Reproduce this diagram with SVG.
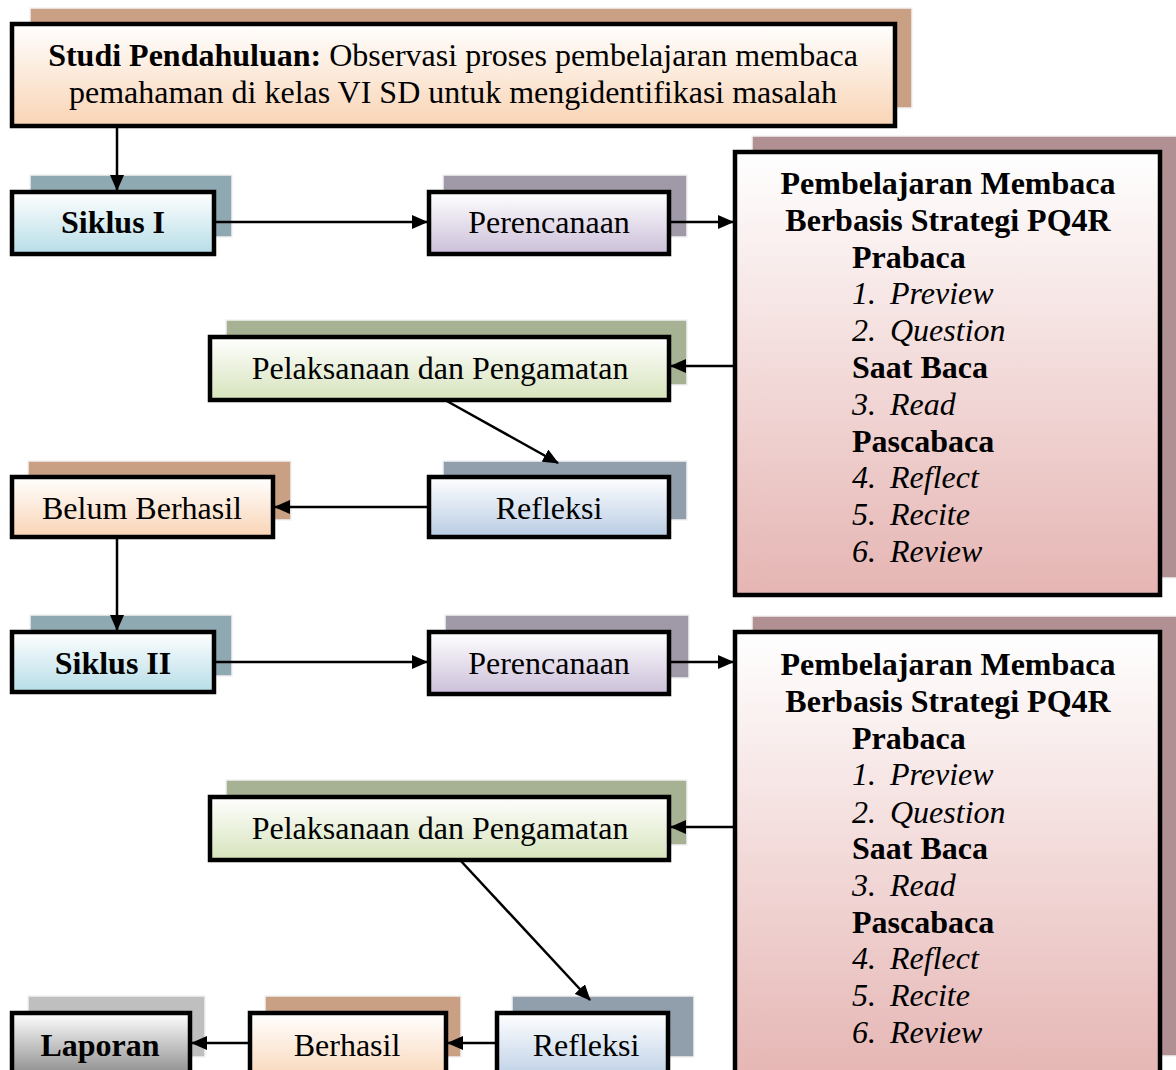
<svg xmlns="http://www.w3.org/2000/svg" width="1176" height="1070" viewBox="0 0 1176 1070">
<style>
.box{stroke:#000;stroke-width:4.5}
.sh{stroke:#f2f2f2;stroke-width:1.5}
.t{font-family:"Liberation Serif","Times New Roman",serif;font-size:32px;fill:#000}
.b{font-weight:bold}
.i{font-style:italic}
.c{text-anchor:middle}
.con{stroke:#000;stroke-width:2.5;fill:none}
</style>
<defs>
<marker id="ah" markerUnits="userSpaceOnUse" markerWidth="16" markerHeight="14" refX="15" refY="7" orient="auto">
<path d="M0,0 L16,7 L0,14 Z" fill="#000"/>
</marker>
<linearGradient id="gPeach" x1="0" y1="0" x2="0" y2="1"><stop offset="0" stop-color="#ffffff"/><stop offset="1" stop-color="#f9d4b5"/></linearGradient>
<linearGradient id="gBlue" x1="0" y1="0" x2="0" y2="1"><stop offset="0" stop-color="#ffffff"/><stop offset="1" stop-color="#b6dde7"/></linearGradient>
<linearGradient id="gPurple" x1="0" y1="0" x2="0" y2="1"><stop offset="0" stop-color="#ffffff"/><stop offset="1" stop-color="#cbbfd9"/></linearGradient>
<linearGradient id="gPink" x1="0" y1="0" x2="0" y2="1"><stop offset="0" stop-color="#ffffff"/><stop offset="1" stop-color="#e5b5b3"/></linearGradient>
<linearGradient id="gGreen" x1="0" y1="0" x2="0" y2="1"><stop offset="0" stop-color="#ffffff"/><stop offset="1" stop-color="#d6e3bb"/></linearGradient>
<linearGradient id="gSteel" x1="0" y1="0" x2="0" y2="1"><stop offset="0" stop-color="#ffffff"/><stop offset="1" stop-color="#b8cce4"/></linearGradient>
<linearGradient id="gGray" x1="0" y1="0" x2="0" y2="1"><stop offset="0" stop-color="#ffffff"/><stop offset="1" stop-color="#7f7f7f"/></linearGradient>
</defs>

<g id="studi">
<rect class="sh" x="30" y="8" width="882" height="100" fill="#c9a084"/>
<rect class="box" x="12" y="24" width="883" height="102" fill="url(#gPeach)"/>
<text class="t c" x="453" y="66"><tspan class="b">Studi Pendahuluan:</tspan> Observasi proses pembelajaran membaca</text>
<text class="t c" x="453" y="103">pemahaman di kelas VI SD untuk mengidentifikasi masalah</text>
</g>

<g id="siklus1">
<rect class="sh" x="30" y="175" width="202" height="62" fill="#8ea9b1"/>
<rect class="box" x="12" y="192" width="202" height="62" fill="url(#gBlue)"/>
<text class="t c b" x="113" y="233">Siklus I</text>
</g>

<g id="perencanaan1">
<rect class="sh" x="443" y="175" width="244" height="62" fill="#a09aa8"/>
<rect class="box" x="429" y="192" width="240" height="62" fill="url(#gPurple)"/>
<text class="t c" x="549" y="233">Perencanaan</text>
</g>

<g id="pq4r1">
<rect class="sh" x="752" y="136" width="426" height="442" fill="#b09092"/>
<rect class="box" x="735" y="152" width="425" height="443" fill="url(#gPink)"/>
<text class="t c b" x="948" y="194">Pembelajaran Membaca</text>
<text class="t c b" x="948" y="231">Berbasis Strategi PQ4R</text>
<text class="t b" x="852" y="268">Prabaca</text>
<text class="t i" x="852" y="304">1.<tspan x="890">Preview</tspan></text>
<text class="t i" x="852" y="341">2.<tspan x="890">Question</tspan></text>
<text class="t b" x="852" y="378">Saat Baca</text>
<text class="t i" x="852" y="415">3.<tspan x="890">Read</tspan></text>
<text class="t b" x="852" y="452">Pascabaca</text>
<text class="t i" x="852" y="488">4.<tspan x="890">Reflect</tspan></text>
<text class="t i" x="852" y="525">5.<tspan x="890">Recite</tspan></text>
<text class="t i" x="852" y="562">6.<tspan x="890">Review</tspan></text>
</g>

<g id="pelaksanaan1">
<rect class="sh" x="226" y="320" width="461" height="65" fill="#a7b193"/>
<rect class="box" x="210" y="337" width="459" height="63" fill="url(#gGreen)"/>
<text class="t c" x="440" y="379">Pelaksanaan dan Pengamatan</text>
</g>

<g id="refleksi1">
<rect class="sh" x="443" y="461" width="244" height="59" fill="#919eac"/>
<rect class="box" x="429" y="477" width="240" height="60" fill="url(#gSteel)"/>
<text class="t c" x="549" y="519">Refleksi</text>
</g>

<g id="belum">
<rect class="sh" x="28" y="461" width="263" height="59" fill="#c9a084"/>
<rect class="box" x="12" y="477" width="261" height="60" fill="url(#gPeach)"/>
<text class="t c" x="142" y="519">Belum Berhasil</text>
</g>

<g id="siklus2">
<rect class="sh" x="30" y="615" width="202" height="61" fill="#8ea9b1"/>
<rect class="box" x="12" y="632" width="202" height="60" fill="url(#gBlue)"/>
<text class="t c b" x="113" y="674">Siklus II</text>
</g>

<g id="perencanaan2">
<rect class="sh" x="445" y="615" width="244" height="63" fill="#a09aa8"/>
<rect class="box" x="429" y="632" width="240" height="62" fill="url(#gPurple)"/>
<text class="t c" x="549" y="674">Perencanaan</text>
</g>

<g id="pq4r2">
<rect class="sh" x="752" y="616" width="426" height="440" fill="#b09092"/>
<rect class="box" x="735" y="632" width="425" height="450" fill="url(#gPink)"/>
<text class="t c b" x="948" y="675">Pembelajaran Membaca</text>
<text class="t c b" x="948" y="712">Berbasis Strategi PQ4R</text>
<text class="t b" x="852" y="749">Prabaca</text>
<text class="t i" x="852" y="785">1.<tspan x="890">Preview</tspan></text>
<text class="t i" x="852" y="823">2.<tspan x="890">Question</tspan></text>
<text class="t b" x="852" y="859">Saat Baca</text>
<text class="t i" x="852" y="896">3.<tspan x="890">Read</tspan></text>
<text class="t b" x="852" y="933">Pascabaca</text>
<text class="t i" x="852" y="969">4.<tspan x="890">Reflect</tspan></text>
<text class="t i" x="852" y="1006">5.<tspan x="890">Recite</tspan></text>
<text class="t i" x="852" y="1043">6.<tspan x="890">Review</tspan></text>
</g>

<g id="pelaksanaan2">
<rect class="sh" x="226" y="780" width="461" height="65" fill="#a7b193"/>
<rect class="box" x="210" y="797" width="459" height="63" fill="url(#gGreen)"/>
<text class="t c" x="440" y="839">Pelaksanaan dan Pengamatan</text>
</g>

<g id="refleksi2">
<rect class="sh" x="512" y="996" width="182" height="61" fill="#919eac"/>
<rect class="box" x="497" y="1013" width="171" height="70" fill="url(#gSteel)"/>
<text class="t c" x="586" y="1056">Refleksi</text>
</g>

<g id="berhasil">
<rect class="sh" x="265" y="996" width="196" height="61" fill="#c9a084"/>
<rect class="box" x="250" y="1013" width="196" height="70" fill="url(#gPeach)"/>
<text class="t c" x="347" y="1056">Berhasil</text>
</g>

<g id="laporan">
<rect class="sh" x="28" y="996" width="177" height="61" fill="#bfbfbf"/>
<rect class="box" x="12" y="1013" width="178" height="70" fill="url(#gGray)"/>
<text class="t c b" x="100" y="1056">Laporan</text>
</g>

<g id="connectors">
<line class="con" x1="117" y1="126" x2="117" y2="190" marker-end="url(#ah)"/>
<line class="con" x1="214" y1="222" x2="427" y2="222" marker-end="url(#ah)"/>
<line class="con" x1="669" y1="222" x2="733" y2="222" marker-end="url(#ah)"/>
<line class="con" x1="735" y1="366" x2="671" y2="366" marker-end="url(#ah)"/>
<line class="con" x1="445" y1="400" x2="558" y2="463" marker-end="url(#ah)"/>
<line class="con" x1="429" y1="507" x2="275" y2="507" marker-end="url(#ah)"/>
<line class="con" x1="117" y1="537" x2="117" y2="630" marker-end="url(#ah)"/>
<line class="con" x1="214" y1="662" x2="427" y2="662" marker-end="url(#ah)"/>
<line class="con" x1="669" y1="662" x2="733" y2="662" marker-end="url(#ah)"/>
<line class="con" x1="735" y1="827" x2="671" y2="827" marker-end="url(#ah)"/>
<line class="con" x1="460" y1="860" x2="590" y2="1000" marker-end="url(#ah)"/>
<line class="con" x1="497" y1="1043" x2="448" y2="1043" marker-end="url(#ah)"/>
<line class="con" x1="250" y1="1043" x2="192" y2="1043" marker-end="url(#ah)"/>
</g>
</svg>
